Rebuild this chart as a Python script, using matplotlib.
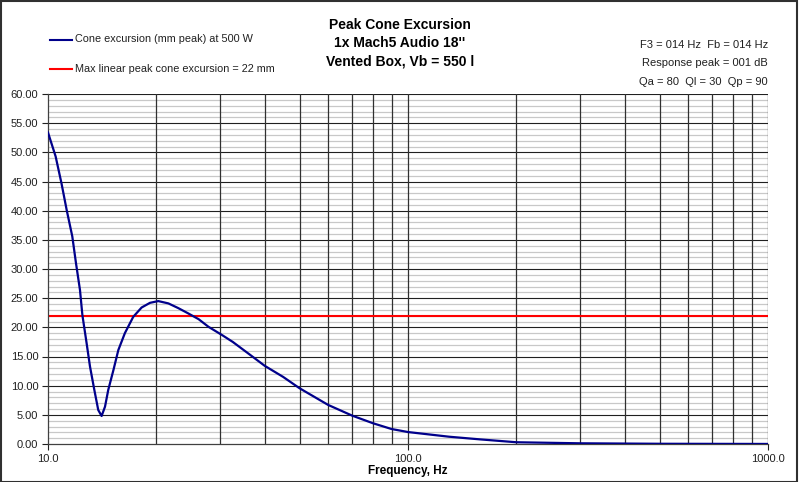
import numpy as np
import matplotlib
matplotlib.use("Agg")
import matplotlib.pyplot as plt
from matplotlib.ticker import FixedLocator, NullFormatter, FuncFormatter
from matplotlib.patches import Rectangle

plt.rcParams['font.family'] = ['Liberation Sans', 'DejaVu Sans']

# values
freq_hz = [10.0, 10.5, 10.9, 11.27, 11.68, 11.96, 12.27, 12.46, 12.8, 13.08,
           13.45, 13.79, 14.09, 14.4, 14.7, 15.2, 15.68, 16.35, 17.25, 18.2,
           19.2, 20.25, 21.6, 23.0, 24.5, 26.2, 27.9, 30.4, 32.6, 36.4, 40.0,
           45.0, 50.0, 60.0, 70.0, 80.0, 90.0, 100.0, 130.0, 158.0, 200.0,
           300.0, 500.0, 1000.0]
excursion_mm = [53.4, 49.3, 44.7, 40.1, 35.6, 31.0, 26.4, 22.1, 17.3, 13.3,
                9.26, 5.83, 4.8, 6.4, 9.26, 12.7, 16.1, 19.0, 21.8, 23.4,
                24.2, 24.5, 24.1, 23.3, 22.4, 21.4, 20.1, 18.7, 17.5, 15.3, 13.4,
                11.5, 9.55, 6.7, 4.86, 3.55, 2.57, 2.05, 1.25, 0.8, 0.3,
                0.12, 0.04, 0.01]
xmax_mm = 22

title_lines = ["Peak Cone Excursion", "1x Mach5 Audio 18''", "Vented Box, Vb = 550 l"]
info_lines = ["F3 = 014 Hz  Fb = 014 Hz", "Response peak = 001 dB", "Qa = 80  Ql = 30  Qp = 90"]
legend_labels = ["Cone excursion (mm peak) at 500 W", "Max linear peak cone excursion = 22 mm"]
x_grid = [m * d for d in (10, 100) for m in range(2, 10)] + [100]

fig = plt.figure(figsize=(7.99, 4.82), dpi=100)
ax = fig.add_axes([48 / 799, 1 - 444 / 482, 720 / 799, 350 / 482])

ax.set_xscale('log')
ax.set_xlim(10, 1000)
ax.set_ylim(0, 60)

ax.yaxis.set_major_locator(FixedLocator(np.arange(0, 61, 5)))
ax.xaxis.set_major_locator(FixedLocator([10, 100, 1000]))
ax.xaxis.set_minor_locator(FixedLocator([]))
ax.xaxis.set_minor_formatter(NullFormatter())
ax.xaxis.set_major_formatter(FuncFormatter(lambda v, p: f"{v:.1f}"))
ax.yaxis.set_major_formatter(FuncFormatter(lambda v, p: f"{v:.2f}"))

# grid drawn by hand so the layers stack like the reference
for v in np.arange(1, 60, 1):
    if v % 5:
        ax.axhline(v, color='#c8c8c8', lw=0.9, zorder=0.5)
for v in np.arange(5, 61, 5):
    ax.axhline(v, color='#202020', lw=0.8, zorder=0.7)
for f in x_grid:
    ax.axvline(f, color='#303030', lw=0.9, zorder=0.8)
ax.axvline(1000, color='#303030', lw=0.9, zorder=0.8)

ax.tick_params(which='major', length=4, width=0.8, labelsize=8, colors='#202020', pad=3)

for side in ['top', 'right']:
    ax.spines[side].set_visible(False)
for side in ['left', 'bottom']:
    ax.spines[side].set_color('#404040')
    ax.spines[side].set_linewidth(0.9)

ax.plot(freq_hz, excursion_mm, color='#00008b', lw=1.6, solid_joinstyle='round', zorder=3)
ax.axhline(xmax_mm, color='#ff0000', lw=1.5, zorder=2)

ax.set_xlabel("Frequency, Hz", fontsize=8.5, fontweight='bold', labelpad=1)

# title and info texts
for i, line in enumerate(title_lines):
    fig.text(400 / 799, 1 - (25 + 18 * i) / 482, line, ha='center', va='center',
             fontsize=10, fontweight='bold')
for i, line in enumerate(info_lines):
    fig.text(768 / 799, 1 - (45 + 18.5 * i) / 482, line, ha='right', va='center',
             fontsize=8, color='#202020')

# legend
leg_colors = ['#00008b', '#ff0000']
for i, (lab, c) in enumerate(zip(legend_labels, leg_colors)):
    yy = 1 - (39.5 + 29.5 * i) / 482
    fig.add_artist(plt.Line2D([50 / 799, 72 / 799], [yy, yy], color=c, lw=1.5))
    fig.text(75 / 799, yy, lab, ha='left', va='center', fontsize=7.8, color='#202020')

# outer frame
fig.add_artist(Rectangle((0.001, 0.001), 0.997, 0.996, transform=fig.transFigure,
                         fill=False, edgecolor='#303030', lw=1.5))

fig.savefig("out.png", dpi=100)
